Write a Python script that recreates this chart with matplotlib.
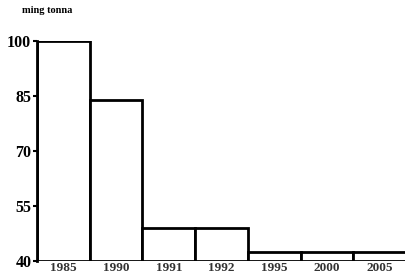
import matplotlib

matplotlib.use("Agg", force=True)
import matplotlib.pyplot as plt

years = ["1985", "1990", "1991", "1992", "1995", "2000", "2005"]
values = [100, 84, 49, 49, 42.5, 42.5, 42.5]
y_ticks = [40, 55, 70, 85, 100]
unit_label = "ming tonna"

plt.rcParams["font.family"] = ["Liberation Serif", "DejaVu Serif"]

fig = plt.figure(figsize=(4.05, 2.8), dpi=100, facecolor="white")
ax = fig.add_axes([0.091, 0.068, 0.912, 0.786])

positions = list(range(len(years)))
ax.bar(positions, [v - 40 for v in values], bottom=40, width=1.0, align="edge",
       facecolor="white", edgecolor="black", linewidth=2.0)

ax.set_xlim(0, len(years))
ax.set_ylim(40, 100)

ax.set_xticks([p + 0.5 for p in positions])
ax.set_xticklabels(years, fontsize=9.5, fontweight="bold", color="#333333")
ax.tick_params(axis="x", length=0, pad=1)

ax.set_yticks(y_ticks)
ax.set_yticklabels([str(t) for t in y_ticks], fontsize=11.5, fontweight="bold")
ax.tick_params(axis="y", length=3, width=1.5, pad=1)

for side in ["top", "right", "bottom"]:
    ax.spines[side].set_visible(False)
ax.spines["left"].set_linewidth(2.0)

fig.text(0.054, 0.962, unit_label, fontsize=7.5, fontweight="bold", va="center", ha="left")

fig.savefig("out.png", dpi=100, facecolor="white")
